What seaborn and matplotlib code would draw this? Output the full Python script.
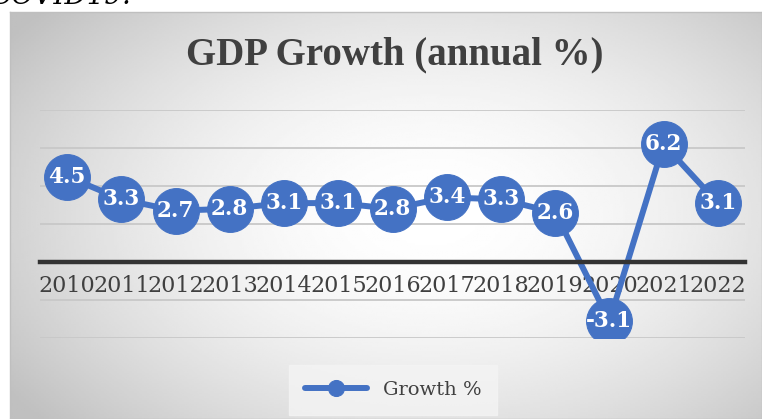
import numpy as np
import matplotlib
matplotlib.use("Agg")
import matplotlib.pyplot as plt
import seaborn as sns
import pandas as pd

years = ["2010", "2011", "2012", "2013", "2014", "2015", "2016",
         "2017", "2018", "2019", "2020", "2021", "2022"]
growth = [4.5, 3.3, 2.7, 2.8, 3.1, 3.1, 2.8, 3.4, 3.3, 2.6, -3.1, 6.2, 3.1]
series_name = "Growth %"
title = "GDP Growth (annual %)"

df = pd.DataFrame({"year": years, "growth": growth})

sns.set_style("white")
plt.rcParams["font.family"] = ["DejaVu Serif"]

W, H = 762, 419
fig = plt.figure(figsize=(W / 100, H / 100), dpi=100)
fig.patch.set_facecolor("white")

# chart background with radial gradient
bg = fig.add_axes([10 / W, 0, (W - 10) / W, (H - 12) / H])
yy, xx = np.mgrid[0:1:200j, 0:1:300j]
d = np.sqrt(((xx - 0.56) / 0.7) ** 2 + ((yy - 0.5) / 0.8) ** 2)
shade = np.clip(1 - 0.26 * d ** 1.8, 0.75, 1)
bg.imshow(shade, cmap="gray", vmin=0, vmax=1, aspect="auto",
          extent=[0, 1, 0, 1], origin="upper")
bg.set_xticks([])
bg.set_yticks([])
for s in bg.spines.values():
    s.set_color("#bfbfbf")
    s.set_linewidth(1)

fig.text(-0.012, 1.008, "COVID19.", fontsize=20, style="italic",
         color="black", va="center", ha="left")

# plot area
ax = fig.add_axes([40 / W, (H - 338) / H, 705 / W, 228 / H])
ax.patch.set_alpha(0)
sns.lineplot(data=df, x="year", y="growth", ax=ax, color="#4472C4",
             linewidth=4.3, marker="o", markersize=33,
             markeredgecolor="#4472C4", sort=False, label=series_name)
ax.set_xlim(-0.5, len(years) - 0.5)
ax.set_ylim(-4, 8)
ax.set_yticks([-4, -2, 2, 4, 6, 8])
ax.yaxis.grid(True, color="#c8c8c8", linewidth=1.3)
ax.set_axisbelow(True)
ax.tick_params(axis="y", left=False, labelleft=False)
ax.tick_params(axis="x", bottom=False, labelsize=16, labelcolor="#404040",
               pad=6)
for s in ["left", "right", "top"]:
    ax.spines[s].set_visible(False)
ax.spines["bottom"].set_position(("data", 0))
ax.spines["bottom"].set_color("#333333")
ax.spines["bottom"].set_linewidth(3.2)
ax.set_xlabel("")
ax.set_ylabel("")

for i, v in enumerate(growth):
    ax.text(i, v, f"{v:.1f}", ha="center", va="center", color="white",
            fontsize=15.5, fontweight="bold", zorder=5)

fig.text(0.518, 0.868, title, ha="center", va="center", fontsize=28,
         fontweight="bold", color="#404040", family="Liberation Serif")

leg = ax.legend(loc="center", bbox_to_anchor=(393 / W, (H - 390) / H),
                bbox_transform=fig.transFigure, frameon=True,
                fontsize=14, markerscale=0.35, handlelength=3.2,
                borderpad=0.5, labelcolor="#404040")
leg.get_frame().set_facecolor("#f4f4f4")
leg.get_frame().set_edgecolor("#f4f4f4")
leg.get_frame().set_boxstyle("square")

fig.savefig("out.png", dpi=100)
